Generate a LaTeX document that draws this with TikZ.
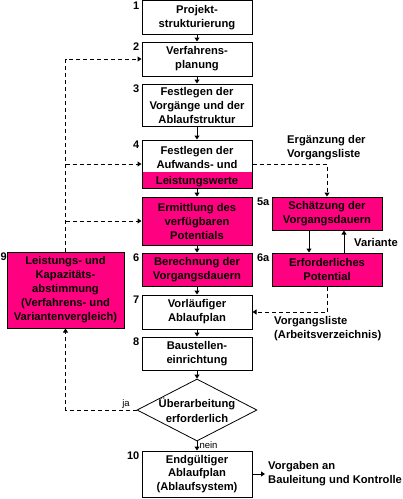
\documentclass[tikz,border=0pt]{standalone}
\usepackage{fontspec}
\setmainfont{Liberation Sans}
\usetikzlibrary{arrows.meta,shapes.geometric,calc}
\definecolor{pinkc}{RGB}{255,0,128}
\begin{document}
\begin{tikzpicture}[x=1pt,y=-1pt,
 every node/.style={font=\fontsize{11.2}{14}\selectfont\bfseries, inner sep=0pt},
 box/.style={draw, line width=1pt, fill=white, minimum width=110pt, align=center},
 pbox/.style={box, fill=pinkc},
 num/.style={anchor=north east, font=\fontsize{11}{13}\selectfont\bfseries},
 arr/.style={-{Triangle[length=4pt,width=5pt]}, line width=1pt},
 dsh/.style={arr, dash pattern=on 4pt off 3pt},
 lbl/.style={align=left},
 small/.style={font=\fontsize{9.5}{11}\selectfont}
]
\path[use as bounding box] (0,0) rectangle (403,499);

% main column
\node[box, minimum height=33.5pt] (b1) at (197,17.5) {Projekt-\\strukturierung};
\node[box, minimum height=34pt] (b2) at (197,59) {Verfahrens-\\planung};
\node[box, minimum height=42pt] (b3) at (197,105) {Festlegen der\\Vorgänge und der\\Ablaufstruktur};
\node[box, minimum height=48pt,
  path picture={\fill[pinkc] ([yshift=16pt]path picture bounding box.south west) rectangle (path picture bounding box.south east);}]
  (b4) at (197,164) {};
\node[anchor=base] (b4t1) at (197,154) {Festlegen der};
\node[anchor=base] (b4t2) at (197,168.5) {Aufwands- und};
\node[anchor=base] (b4t3) at (197,184) {Leistungswerte};
\node[pbox, minimum height=48pt] (b5) at (197,221) {Ermittlung des\\verfügbaren\\Potentials};
\node[pbox, minimum height=33pt] (b6) at (197,269.5) {Berechnung der\\Vorgangsdauern};
\node[box, minimum height=34pt] (b7) at (197,312) {Vorläufiger\\Ablaufplan};
\node[box, minimum height=33pt] (b8) at (197,353.5) {Baustellen-\\einrichtung};
\node[draw, diamond, line width=0.8pt, minimum width=120pt, minimum height=62pt, aspect=1.94] (dia) at (197,410) {};
\node[align=center, font=\fontsize{11.2}{15}\selectfont\bfseries] (diat) at (dia) {Überarbeitung\\erforderlich};
\node[box, minimum height=46pt, font=\fontsize{11.2}{13.5}\selectfont\bfseries] (b10) at (197,474) {Endgültiger\\Ablaufplan\\(Ablaufsystem)};

% side boxes
\node[pbox, minimum width=117pt, minimum height=76pt] (b9) at (65.5,290) {Leistungs- und\\Kapazitäts-\\abstimmung\\(Verfahrens- und\\Variantenvergleich)};
\node[pbox, minimum height=33pt] (b5a) at (327,213.5) {Schätzung der\\Vorgangsdauern};
\node[pbox, minimum height=33pt] (b6a) at (327,269.5) {Erforderliches\\Potential};

% numbers
\node[num] at ([xshift=-2pt,yshift=-1pt]b1.north west) {1};
\node[num] at ([xshift=-2pt,yshift=-1pt]b2.north west) {2};
\node[num] at ([xshift=-2pt,yshift=-1pt]b3.north west) {3};
\node[num] at ([xshift=-2pt,yshift=-1pt]b4.north west) {4};
\node[num] at ([xshift=-2pt,yshift=-1pt]b6.north west) {6};
\node[num] at ([xshift=-2pt,yshift=-1pt]b7.north west) {7};
\node[num] at ([xshift=-2pt,yshift=-1pt]b8.north west) {8};
\node[num] at ([xshift=-2pt,yshift=-1pt]b10.north west) {10};
\node[num, anchor=north west] at ([yshift=-1pt]0.5,252) {9};
\node[num] at ([xshift=-2pt,yshift=-1pt]b5a.north west) {5a};
\node[num] at ([xshift=-2pt,yshift=-1pt]b6a.north west) {6a};

% main arrows
\draw[arr] (b1) -- (b2);
\draw[arr] (b2) -- (b3);
\draw[arr] (b3) -- (b4);
\draw[arr] (b4) -- (b5);
\draw[arr] (b5) -- (b6);
\draw[arr] (b6) -- (b7);
\draw[arr] (b7) -- (b8);
\draw[arr] (b8) -- (dia.north);
\draw[arr] (dia.south) -- (b10.north) node[pos=0.45, anchor=west, xshift=2pt, font=\fontsize{9.5}{11}\selectfont] {nein};

% left feedback
\draw[dsh] (b9.north) |- (b2.west);
\draw[dsh] (b9.north |- b4.west) -- (b4.west);
\draw[dsh] (b9.north |- b5.west) -- (b5.west);
\draw[dsh] (dia.west) -| (b9.south);
\node[anchor=south, font=\fontsize{9.5}{11}\selectfont] (ja) at (126,408.5) {ja};

% right side
\draw[dsh] (b4.east) -| (b5a.north);
\node[lbl, anchor=north west] (erg) at (287,135) {Ergänzung der\\Vorgangsliste};
\draw[arr] ([xshift=-18pt]b5a.south) -- ([xshift=-18pt]b6a.north);
\draw[arr] ([xshift=17pt]b6a.north) -- ([xshift=17pt]b5a.south);
\node[anchor=west] (var) at (354,242) {Variante};
\draw[dsh] (b6a.south) |- (b7.east);
\node[lbl, anchor=north west] (vl) at (274,316) {Vorgangsliste\\(Arbeitsverzeichnis)};

% output
\node[lbl, anchor=west] (out) at (268,474) {Vorgaben an\\Bauleitung und Kontrolle};
\draw[arr, shorten >=3pt] (b10.east) -- (out.west);
\end{tikzpicture}
\end{document}
